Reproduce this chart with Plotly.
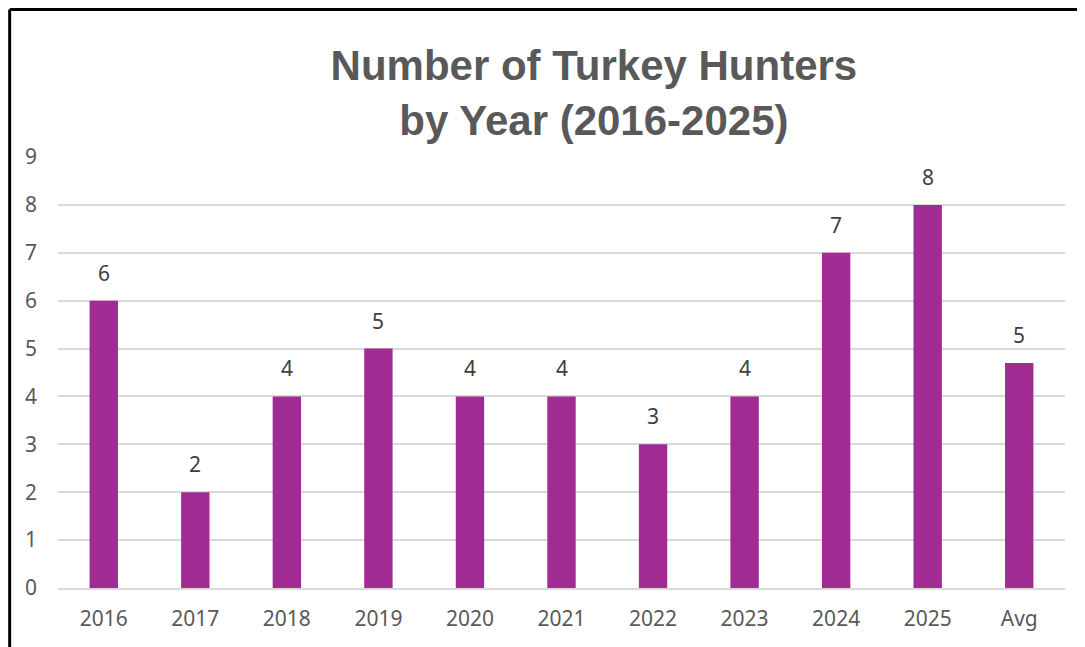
import plotly.graph_objects as go

# hunters per season, plus the 10 year average
years = ['2016', '2017', '2018', '2019', '2020', '2021', '2022', '2023', '2024', '2025']
hunters = [6, 2, 4, 5, 4, 4, 3, 4, 7, 8]
avg = sum(hunters) / len(hunters)

categories = years + ['Avg']
values = hunters + [avg]

bar_color = '#A02B93'
text_color = '#595959'

fig = go.Figure()
fig.add_bar(x=categories, y=values, marker_color=bar_color, marker_line_width=0,
            hoverinfo='x+y')

# data labels above each bar (x as category index, '2016' would be read as an index otherwise)
for i, val in enumerate(values):
    fig.add_annotation(x=i, y=val, text=f'{val:.0f}', showarrow=False,
                       yanchor='bottom', yshift=12,
                       font=dict(family='Noto Sans', size=21, color='#404040'))

# frame line seen at top/left of the screenshot (page has an 8px body margin)
fig.add_shape(type='line', xref='paper', yref='paper', x0=-0.048, x1=1.03, y0=1.342, y1=1.342,
              line=dict(color='black', width=3))
fig.add_shape(type='line', xref='paper', yref='paper', x0=-0.048, x1=-0.048, y0=1.342, y1=-0.16,
              line=dict(color='black', width=3))

fig.update_layout(
    width=1085, height=647,
    margin=dict(l=50, r=28, t=149, b=67),
    paper_bgcolor='white', plot_bgcolor='white',
    bargap=0.69,
    showlegend=False,
    title=dict(text='<b>Number of Turkey Hunters<br>by Year (2016-2025)</b>',
               x=0.540, xanchor='center', y=0.888, yanchor='top',
               font=dict(family='Liberation Sans', size=42, color=text_color)),
    font=dict(family='Noto Sans', size=20, color=text_color),
)
fig.update_yaxes(range=[0, 9], dtick=1, showgrid=True, gridcolor='#D9D9D9', gridwidth=1.5,
                 zeroline=False, showline=False, ticks='', ticklabelstandoff=20,
                 tickfont=dict(size=21, color=text_color))
fig.update_xaxes(type='category', range=[-0.5, len(categories) - 0.5],
                 showline=True, linecolor='#D9D9D9', linewidth=1.5, ticks='',
                 ticklabelstandoff=11, tickfont=dict(size=21, color=text_color))

fig.write_html('out.html')
